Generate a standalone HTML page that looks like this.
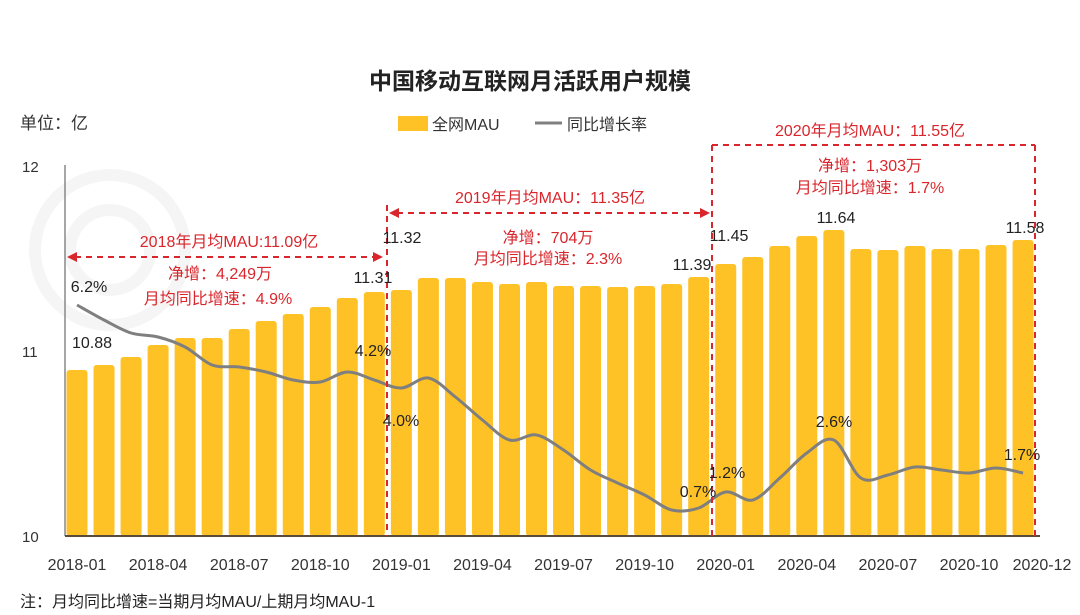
<!DOCTYPE html>
<html><head><meta charset="utf-8"><style>
html,body{margin:0;padding:0;background:#fff;}
svg{display:block;font-family:"Liberation Sans","Noto Sans CJK SC",sans-serif;}
</style></head><body>
<svg id="s" width="1080" height="615" viewBox="0 0 1080 615" xmlns="http://www.w3.org/2000/svg">
<rect width="1080" height="615" fill="#fff"/>
<g fill="none" stroke="#f5f5f5" stroke-width="12">
<circle cx="110" cy="250" r="75"/><circle cx="110" cy="250" r="40"/>
</g>
<text x="530" y="89" text-anchor="middle" font-size="23" font-weight="bold" fill="#222">中国移动互联网月活跃用户规模</text>
<text x="20" y="129" font-size="17" fill="#333">单位：亿</text>
<rect x="398" y="116" width="30" height="15" fill="#FFC226"/>
<text x="432" y="130" font-size="16" fill="#333">全网MAU</text>
<line x1="535" y1="123" x2="562" y2="123" stroke="#808080" stroke-width="3"/>
<text x="567" y="130" font-size="16" fill="#333">同比增长率</text>
<text x="22" y="172" font-size="15" fill="#333">12</text>
<text x="22" y="357" font-size="15" fill="#333">11</text>
<text x="22" y="542" font-size="15" fill="#333">10</text>
<g id="bars"></g>
<line x1="65" y1="165" x2="65" y2="536" stroke="#888" stroke-width="1.5"/>
<line x1="65" y1="536" x2="1040" y2="536" stroke="#5a4a3a" stroke-width="2"/>
<path id="ln" fill="none" stroke="#7f7f7f" stroke-width="3"/>
<g id="xl" font-size="16" fill="#333" text-anchor="middle"></g>
<g stroke="#d9262c" stroke-width="2" stroke-dasharray="6,5" fill="none">
<line x1="387" y1="205" x2="387" y2="536"/>
<line x1="712" y1="145" x2="712" y2="536"/>
<line x1="1035" y1="145" x2="1035" y2="536"/>
<line x1="75" y1="257" x2="375" y2="257"/>
<line x1="397" y1="213" x2="702" y2="213"/>
<line x1="712" y1="145" x2="1035" y2="145"/>
</g>
<g fill="#d9262c">
<polygon points="67,257 77,252 77,262"/><polygon points="383,257 373,252 373,262"/>
<polygon points="389,213 399,208 399,218"/><polygon points="710,213 700,208 700,218"/>
</g>
<g fill="#d9262c" font-size="16" text-anchor="middle">
<text x="229" y="247">2018年月均MAU:11.09亿</text>
<text x="220" y="279">净增：4,249万</text>
<text x="218" y="304">月均同比增速：4.9%</text>
<text x="550" y="203">2019年月均MAU：11.35亿</text>
<text x="548" y="243">净增：704万</text>
<text x="548" y="264">月均同比增速：2.3%</text>
<text x="870" y="136">2020年月均MAU：11.55亿</text>
<text x="870" y="171">净增：1,303万</text>
<text x="870" y="193">月均同比增速：1.7%</text>
</g>
<g font-size="16" fill="#222" text-anchor="middle">
<text x="92" y="348">10.88</text><text x="373" y="283">11.31</text><text x="402" y="243">11.32</text>
<text x="692" y="270">11.39</text><text x="729" y="241">11.45</text><text x="836" y="223">11.64</text>
<text x="1025" y="233">11.58</text>
<text x="89" y="292">6.2%</text><text x="373" y="356">4.2%</text><text x="401" y="426">4.0%</text>
<text x="698" y="497">0.7%</text><text x="727" y="478">1.2%</text><text x="834" y="427">2.6%</text>
<text x="1022" y="460">1.7%</text>
</g>
<text x="20" y="607" font-size="16" fill="#222">注：月均同比增速=当期月均MAU/上期月均MAU-1</text>
</svg>
<script>
var tops=[370,365,357,345,338,338,329,321,314,307,298,292,290,278,278,282,284,282,286,286,287,286,284,277,264,257,246,236,230,249,250,246,249,249,245,240];
var ly=[305,320,333,337,347,365,367,372,380,382,372,380,388,378,397,420,440,435,450,470,483,495,510,508,492,500,478,453,440,478,475,467,470,473,468,473];
var ns="http://www.w3.org/2000/svg",g=document.getElementById('bars'),xl=document.getElementById('xl');
var X=function(i){return 77+27.03*i;};
for(var i=0;i<36;i++){var r=document.createElementNS(ns,'rect');r.setAttribute('x',X(i)-10.5);r.setAttribute('y',tops[i]);r.setAttribute('width',21);r.setAttribute('height',536-tops[i]);r.setAttribute('rx',3);r.setAttribute('fill','#FFC226');g.appendChild(r);}
var labs=['2018-01','2018-04','2018-07','2018-10','2019-01','2019-04','2019-07','2019-10','2020-01','2020-04','2020-07','2020-10'];
for(var k=0;k<12;k++){var t=document.createElementNS(ns,'text');t.setAttribute('x',X(k*3));t.setAttribute('y',570);t.textContent=labs[k];xl.appendChild(t);}
var t=document.createElementNS(ns,'text');t.setAttribute('x',1042);t.setAttribute('y',570);t.textContent='2020-12';xl.appendChild(t);
var P=ly.map(function(y,i){return [X(i),y];});
var d='M'+P[0][0]+','+P[0][1];
for(var i=0;i<P.length-1;i++){var p0=P[Math.max(0,i-1)],p1=P[i],p2=P[i+1],p3=P[Math.min(P.length-1,i+2)];
d+=' C'+(p1[0]+(p2[0]-p0[0])/6)+','+(p1[1]+(p2[1]-p0[1])/6)+' '+(p2[0]-(p3[0]-p1[0])/6)+','+(p2[1]-(p3[1]-p1[1])/6)+' '+p2[0]+','+p2[1];}
document.getElementById('ln').setAttribute('d',d);
</script>
</body></html>
